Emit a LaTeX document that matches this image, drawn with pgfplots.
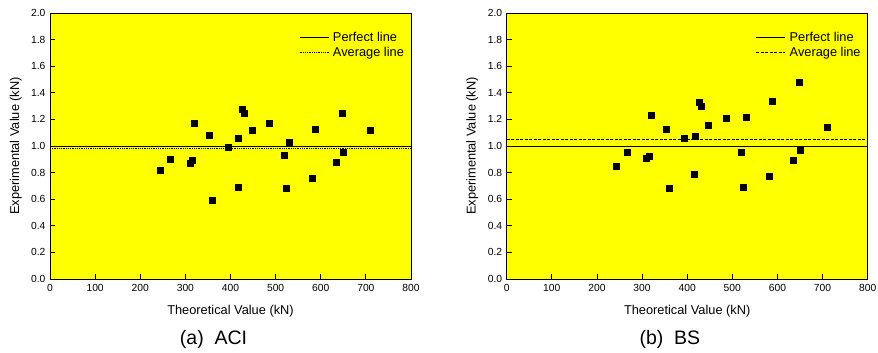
\documentclass[border=0pt]{standalone}
\usepackage{fontspec}
\setmainfont{Liberation Sans}
\usepackage{pgfplots}
\pgfplotsset{compat=1.18}
\definecolor{bgyellow}{RGB}{255,255,0}
\pgfplotsset{
  myaxis/.style={
    scale only axis, width=361pt, height=266pt,
    xmin=0, xmax=800, ymin=0, ymax=2.0,
    clip=false,
    xtick={0,100,...,800},
    ytick={0,0.2,...,2.0},
    yticklabel style={/pgf/number format/fixed,/pgf/number format/fixed zerofill,/pgf/number format/precision=1, xshift=-1pt},
    /pgf/number format/assume math mode=true,
    xticklabel style={/pgf/number format/1000 sep={}, yshift=-2pt},
    tick label style={font=\fontsize{10.3}{12}\selectfont},
    label style={font=\fontsize{12.8}{15}\selectfont},
    tick align=inside, xtick pos=bottom, ytick pos=left,
    major tick length=5pt,
    every tick/.style={black, line width=0.8pt},
    axis line style={line width=0.8pt},
    axis background/.style={fill=bgyellow},
    xlabel={Theoretical Value (kN)},
    ylabel={Experimental Value (kN)},
    xlabel style={at={(axis description cs:0.5,-0.12)},anchor=center},
    ylabel style={at={(axis description cs:-0.095,0.5)},anchor=center,rotate=0},
    legend style={draw=none, fill=none, at={(axis description cs:0.992,0.94)}, anchor=north east,
      font=\fontsize{12.8}{15}\selectfont, nodes={inner sep=1pt}, row sep=2pt},
    legend cell align=left,
    legend image code/.code={\draw[#1] (0pt,0pt) -- (29pt,0pt); \path (32pt,0pt);},
  },
  pts/.style={only marks, mark=square*, mark size=3pt, black, forget plot},
}
\begin{document}
\begin{tikzpicture}
\useasboundingbox (0,0) rectangle (878pt,353pt);
\begin{axis}[myaxis, at={(50pt,74pt)}, anchor=south west]
\addplot[black, line width=0.8pt] coordinates {(0,1.0) (800,1.0)};
\addlegendentry{Perfect line}
\addplot[black, line width=0.8pt, densely dotted] coordinates {(0,0.98) (800,0.98)};
\addlegendentry{Average line}
\addplot[pts] coordinates {
(244.5,0.82) (267,0.90) (310,0.87) (315,0.89) (320,1.17) (353,1.08) (360,0.59)
(394.5,0.99) (418,1.06) (416.6,0.69) (427,1.28) (430,1.25) (447.6,1.12) (486,1.17)
(520,0.93) (524,0.68) (531,1.03) (580.6,0.76) (588,1.13) (634,0.88) (647,1.25)
(650,0.95) (710.6,1.12)
};
\node[font=\fontsize{19.5}{22}\selectfont, anchor=center] at (axis description cs:0.453,-0.229) {(a)\ \ ACI};
\end{axis}
\begin{axis}[myaxis, at={(506.7pt,74pt)}, anchor=south west]
\addplot[black, line width=0.8pt] coordinates {(0,1.0) (800,1.0)};
\addlegendentry{Perfect line}
\addplot[black, line width=0.8pt, dash pattern=on 3pt off 1.5pt] coordinates {(0,1.05) (800,1.05)};
\addlegendentry{Average line}
\addplot[pts] coordinates {
(243.5,0.85) (266.4,0.95) (309,0.91) (315,0.92) (320,1.23) (353,1.13) (360,0.68)
(393.7,1.06) (418,1.07) (416.6,0.79) (426,1.33) (430,1.30) (447,1.16) (486,1.21)
(520,0.95) (524,0.69) (531,1.22) (581,0.77) (588,1.34) (634,0.89) (647.5,1.48)
(650,0.97) (711,1.14)
};
\node[font=\fontsize{19.5}{22}\selectfont, anchor=center] at (axis description cs:0.452,-0.229) {(b)\ \ BS};
\end{axis}
\end{tikzpicture}
\end{document}
